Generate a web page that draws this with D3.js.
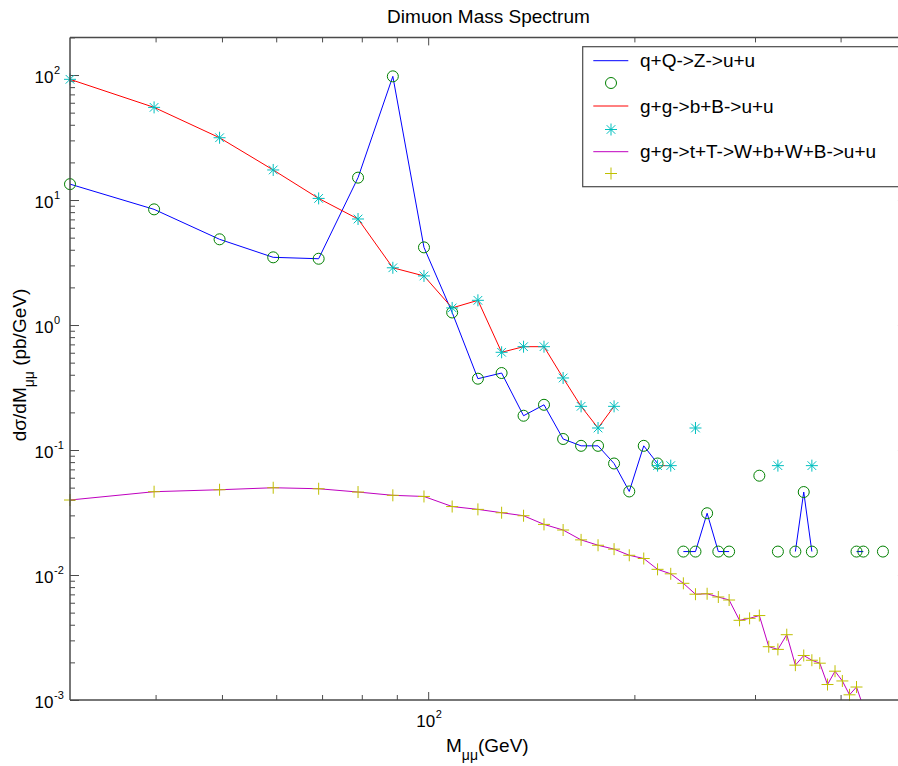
<!DOCTYPE html>
<html>
<head>
<meta charset="utf-8">
<script src="https://cdn.jsdelivr.net/npm/d3@7"></script>
<style>
  html, body { margin: 0; padding: 0; background: #fff; }
  svg { display: block; font-family: Arial, "Liberation Sans", sans-serif; }
</style>
</head>
<body>
<svg id="chart" width="898" height="766"></svg>
<script>
// ---- Data ----
const masses = [30, 39.8, 49.6, 59.4, 69.2, 79, 88.8, 98.6, 108.4, 118.2, 128, 137.8, 147.6, 157.4, 167.2, 177, 186.8, 196.6, 206.4, 216.2, 226, 235.8, 245.6, 255.4, 265.2, 275, 284.8, 294.6, 304.4, 314.2, 324, 333.8, 343.6, 353.4, 363.2, 373, 382.8, 392.6, 402.4, 412.2, 422, 431.8, 441.6, 451.4, 461.2];

const zSeries = [13.4, 8.42, 4.85, 3.48, 3.39, 15.1, 97.6, 4.18, 1.26, 0.372, 0.413, 0.188, 0.230, 0.1225, 0.108, 0.108, 0.078, 0.0466, 0.108, 0.078, null, 0.0154, 0.0154, 0.0312, 0.0154, 0.0154, null, null, 0.0623, null, 0.0154, null, 0.0154, 0.0461, 0.0154, null, null, null, null, null, 0.0154, 0.0154, null, null, 0.0154];

const bbSeries = [92.4, 55.1, 31.5, 17.4, 10.3, 7.05, 2.87, 2.47, 1.37, 1.576, 0.605, 0.671, 0.671, 0.377, 0.2236, 0.15, 0.2236, null, null, 0.075, 0.075, null, 0.15, null, null, null, null, null, null, null, 0.075, null, null, null, 0.075, null, null, null, null, null, null, null, null, null, null];

const ttSeries = [0.0398, 0.0464, 0.0481, 0.0499, 0.049, 0.0461, 0.0434, 0.0425, 0.0353, 0.0335, 0.0315, 0.0298, 0.0254, 0.0229, 0.0191, 0.0173, 0.0161, 0.01438, 0.01355, 0.0111, 0.01022, 0.00858, 0.00702, 0.00708, 0.00667, 0.00631, 0.00434, 0.0045, 0.00474, 0.00267, 0.00254, 0.00333, 0.0019, 0.00227, 0.00208, 0.00197, 0.00133, 0.0017, 0.00142, 0.0011, 0.00127, 0.00088, null, null, null];

const legendLabels = ["q+Q->Z->u+u", "", "g+g->b+B->u+u", "", "g+g->t+T->W+b+W+B->u+u", ""];
const yTickExponents = [-3, -2, -1, 0, 1, 2];
const xTickExponents = [2];
const xMinorTicks = [40, 50, 60, 70, 80, 90, 200, 300, 400];

// ---- Layout ----
const svg = d3.select("#chart");
const L = 70, T = 37.4, B = 700;
const R = 70 + 685 * Math.log10(500 / 30);
const x = d3.scaleLog().domain([30, 500]).range([L, R]);
const y = d3.scaleLog().domain([1e-3, 200]).range([B, T]);

const axisColor = "#4a4a4a";
const colors = {
  zLine: "#0000ff", zMark: "#008000",
  bbLine: "#ff0000", bbMark: "#00bfbf",
  ttLine: "#bf00bf", ttMark: "#bfbf00"
};

// clip for lines
svg.append("defs").append("clipPath").attr("id", "plotclip")
  .append("rect").attr("x", L).attr("y", T).attr("width", R - L).attr("height", B - T);

// white plot bg
svg.append("rect").attr("x", L).attr("y", T).attr("width", R - L).attr("height", B - T).attr("fill", "#fff");

// ---- Axes (ticks inward) ----
const yMajor = yTickExponents.map(e => Math.pow(10, e));
const yMinor = [];
for (let e = -3; e <= 2; e++) for (let m = 2; m <= 9; m++) { const v = m * Math.pow(10, e); if (v <= 200) yMinor.push(v); }
const xMajor = xTickExponents.map(e => Math.pow(10, e));

function styleAxis(g) {
  g.select(".domain").remove();
  g.selectAll("line").attr("stroke", axisColor).attr("stroke-width", 1);
  g.selectAll("text").remove();
}
// left
svg.append("g").attr("transform", `translate(${L},0)`).call(d3.axisLeft(y).tickValues(yMajor).tickSize(-9).tickFormat("")).call(styleAxis);
svg.append("g").attr("transform", `translate(${L},0)`).call(d3.axisLeft(y).tickValues(yMinor).tickSize(-5).tickFormat("")).call(styleAxis);
// right
svg.append("g").attr("transform", `translate(${R},0)`).call(d3.axisRight(y).tickValues(yMajor).tickSize(-9).tickFormat("")).call(styleAxis);
svg.append("g").attr("transform", `translate(${R},0)`).call(d3.axisRight(y).tickValues(yMinor).tickSize(-5).tickFormat("")).call(styleAxis);
// bottom
svg.append("g").attr("transform", `translate(0,${B})`).call(d3.axisBottom(x).tickValues(xMajor).tickSize(-8).tickFormat("")).call(styleAxis);
svg.append("g").attr("transform", `translate(0,${B})`).call(d3.axisBottom(x).tickValues(xMinorTicks).tickSize(-5).tickFormat("")).call(styleAxis);
// top
svg.append("g").attr("transform", `translate(0,${T})`).call(d3.axisTop(x).tickValues(xMajor).tickSize(-8).tickFormat("")).call(styleAxis);
svg.append("g").attr("transform", `translate(0,${T})`).call(d3.axisTop(x).tickValues(xMinorTicks).tickSize(-5).tickFormat("")).call(styleAxis);

// ---- Data lines ----
const lineGen = d3.line()
  .defined(d => d.v != null)
  .x(d => x(d.m)).y(d => y(d.v));
function mk(arr) { return masses.map((m, i) => ({ m, v: arr[i] })); }

const plotG = svg.append("g");
const linesG = plotG.append("g").attr("clip-path", "url(#plotclip)");
[[zSeries, colors.zLine], [bbSeries, colors.bbLine], [ttSeries, colors.ttLine]].forEach(([arr, c]) => {
  linesG.append("path").datum(mk(arr)).attr("d", lineGen)
    .attr("fill", "none").attr("stroke", c).attr("stroke-width", 1);
});

// markers
const rM = 6;
function circleMarker(g, cx, cy, c) {
  g.append("circle").attr("cx", cx).attr("cy", cy).attr("r", rM - 0.5).attr("fill", "none").attr("stroke", c).attr("stroke-width", 1);
}
function plusMarker(g, cx, cy, c) {
  g.append("path").attr("d", `M${cx - rM},${cy}H${cx + rM}M${cx},${cy - rM}V${cy + rM}`).attr("stroke", c).attr("stroke-width", 1).attr("fill", "none");
}
function starMarker(g, cx, cy, c) {
  const a = rM * 0.72;
  g.append("path").attr("d", `M${cx - rM},${cy}H${cx + rM}M${cx},${cy - rM}V${cy + rM}M${cx - a},${cy - a}L${cx + a},${cy + a}M${cx - a},${cy + a}L${cx + a},${cy - a}`)
    .attr("stroke", c).attr("stroke-width", 1).attr("fill", "none");
}
function drawMarkers(arr, fn, c) {
  const g = plotG.append("g");
  mk(arr).filter(d => d.v != null && d.v >= 1e-3).forEach(d => fn(g, x(d.m), y(d.v), c));
}
drawMarkers(zSeries, circleMarker, colors.zMark);
drawMarkers(bbSeries, starMarker, colors.bbMark);
drawMarkers(ttSeries, plusMarker, colors.ttMark);

// axis frame lines
const frame = svg.append("g").attr("stroke", axisColor).attr("stroke-width", 1.5);
frame.append("line").attr("x1", L).attr("x2", L).attr("y1", T).attr("y2", B);
frame.append("line").attr("x1", L).attr("x2", R).attr("y1", B).attr("y2", B);
frame.append("line").attr("x1", L).attr("x2", R).attr("y1", T).attr("y2", T);
frame.append("line").attr("x1", R).attr("x2", R).attr("y1", T).attr("y2", B);

// ---- Tick labels ----
const tickFont = 17, supFont = 11;
yTickExponents.forEach(e => {
  const py = y(Math.pow(10, e));
  svg.append("text").attr("x", 53.5).attr("y", py + 7.5).attr("text-anchor", "end")
    .attr("font-size", tickFont).attr("fill", "#000").text("10");
  svg.append("text").attr("x", 54).attr("y", py - 1.5).attr("text-anchor", "start")
    .attr("font-size", supFont).attr("fill", "#000").text(String(e));
});
xTickExponents.forEach(e => {
  const px = x(Math.pow(10, e));
  svg.append("text").attr("x", px + 7).attr("y", 726.5).attr("text-anchor", "end")
    .attr("font-size", tickFont).attr("fill", "#000").text("10");
  svg.append("text").attr("x", px + 7.5).attr("y", 717.5).attr("text-anchor", "start")
    .attr("font-size", supFont).attr("fill", "#000").text(String(e));
});

// ---- Title & axis labels ----
svg.append("text").attr("x", (L + R) / 2).attr("y", 23).attr("text-anchor", "middle")
  .attr("font-size", 19).attr("fill", "#000").text("Dimuon Mass Spectrum");

const xl = svg.append("text").attr("x", 446).attr("y", 751.5).attr("font-size", 19).attr("fill", "#000");
xl.append("tspan").text("M");
xl.append("tspan").attr("font-size", 14).attr("dy", 8).text("μμ");
xl.append("tspan").attr("dy", -8).text("(GeV)");

const yl = svg.append("text").attr("transform", "translate(25.5,365) rotate(-90)")
  .attr("text-anchor", "middle").attr("font-size", 19).attr("fill", "#000");
yl.append("tspan").text("dσ/dM");
yl.append("tspan").attr("font-size", 14).attr("dy", 8).text("μμ");
yl.append("tspan").attr("dy", -8).text(" (pb/GeV)");

// ---- Legend ----
const lg = svg.append("g");
lg.append("rect").attr("x", 582.7).attr("y", 46.7).attr("width", 340).attr("height", 140)
  .attr("fill", "#fff").attr("stroke", axisColor).attr("stroke-width", 1.2);
const rowY = [60.7, 83, 106, 129.5, 151.7, 173.5];
const legendKinds = [
  ["line", colors.zLine], ["circle", colors.zMark],
  ["line", colors.bbLine], ["star", colors.bbMark],
  ["line", colors.ttLine], ["plus", colors.ttMark]
];
legendKinds.forEach(([kind, c], i) => {
  const yy = rowY[i];
  if (kind === "line") {
    lg.append("line").attr("x1", 593.3).attr("x2", 628.3).attr("y1", yy).attr("y2", yy)
      .attr("stroke", c).attr("stroke-width", 1);
  } else if (kind === "circle") circleMarker(lg, 611, yy, c);
  else if (kind === "star") starMarker(lg, 611, yy, c);
  else plusMarker(lg, 611, yy, c);
  if (legendLabels[i]) {
    lg.append("text").attr("x", 640).attr("y", yy + 6.5).attr("font-size", 19)
      .attr("fill", "#000").text(legendLabels[i]);
  }
});
</script>
</body>
</html>
